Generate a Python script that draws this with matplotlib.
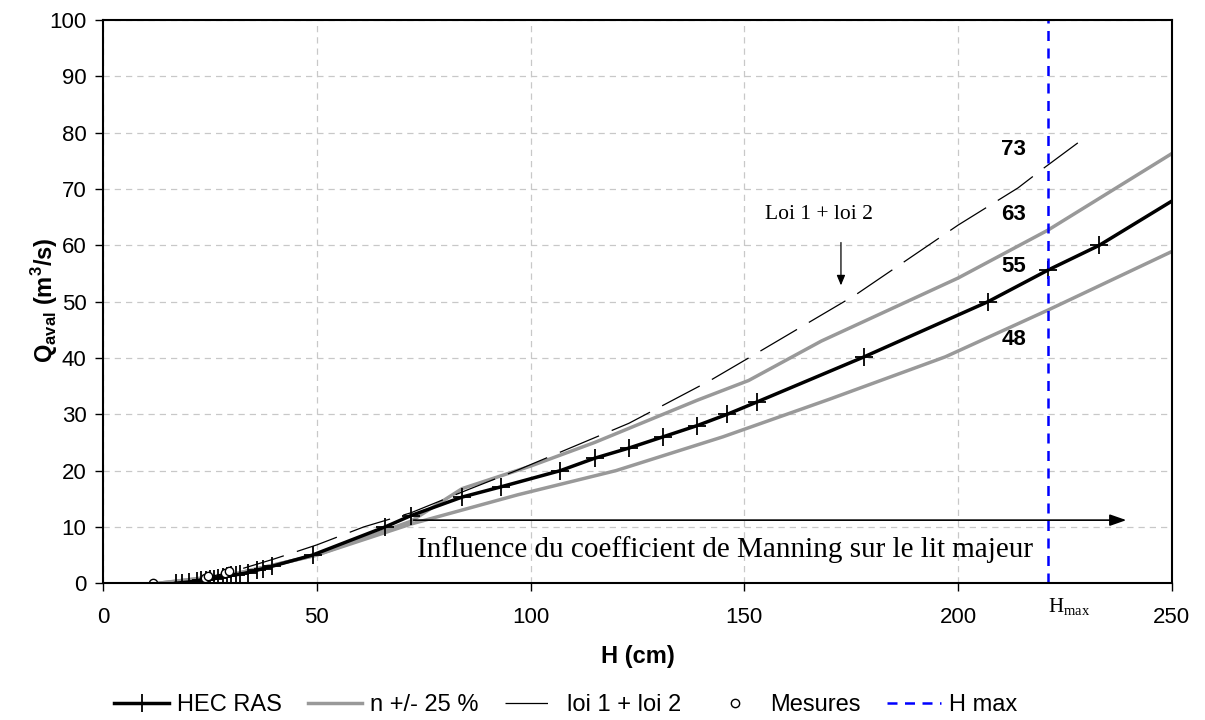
import matplotlib
matplotlib.use("Agg")
from matplotlib import pyplot as plt

# HEC RAS rating curve
hec_h = [17, 18.5, 20, 22, 23, 24, 25, 26, 27, 28, 29, 30, 31, 32, 34, 36, 37.5, 39.5,
         49, 66, 72, 84, 93, 107, 115, 123, 131, 139, 146, 153, 178, 207, 221, 233, 260]
hec_q = [0, 0.1, 0.2, 0.4, 0.5, 0.6, 0.7, 0.8, 1.0, 1.1, 1.2, 1.4, 1.5, 1.6, 1.9, 2.3, 2.6, 3.0,
         5, 10, 12, 15.3, 17.1, 20, 22.2, 24, 26, 28, 30, 32.2, 40.2, 50, 55.6, 60, 72.5]

# n +/- 25 %
up_h = [13, 30, 50, 72, 84, 100, 115, 139, 151, 168, 200, 221, 260]
up_q = [0, 1.5, 5, 11, 16.8, 20.8, 25, 32.5, 36, 43, 54.2, 62.7, 81]
low_h = [13, 30, 50, 72, 97, 120, 145, 170, 197, 221, 260]
low_q = [0, 1.5, 5, 10.5, 15.7, 20, 26, 32.7, 40.2, 48.5, 62.5]

# loi 1 + loi 2
loi_h = [20, 30, 40, 50, 61, 72, 85, 97, 123, 142, 151, 176, 200, 214, 220, 228]
loi_q = [0.3, 2, 4.3, 6.8, 10, 12.5, 16.5, 20.1, 28.4, 36, 40, 51.2, 63.6, 70.2, 73.7, 78.2]

# mesures
mes_h = [11.6, 23.8, 24.5, 28.5, 29.5]
mes_q = [0, 1.0, 1.2, 1.9, 2.1]

h_max = 221
labels_q = [77, 65.4, 56.3, 43.3]
labels_txt = ['73', '63', '55', '48']

plt.rcParams['font.family'] = ['Liberation Sans', 'DejaVu Sans']

fig = plt.figure(figsize=(12.05, 7.2), dpi=100)
ax = fig.add_axes([0.0855, 0.19, 0.887, 0.782])

ax.plot(up_h, up_q, color='#999999', lw=2.5, label='n +/- 25 %')
ax.plot(low_h, low_q, color='#999999', lw=2.5)
ax.plot(loi_h, loi_q, color='black', lw=0.9, dashes=(34, 11), label='loi 1 + loi 2')
ax.plot(hec_h, hec_q, color='black', lw=2.5, marker='+', ms=13, mew=1.3, label='HEC RAS')
ax.plot(mes_h, mes_q, ls='none', marker='o', ms=6, mfc='white', mec='black', mew=1, label='Mesures')
ax.axvline(h_max, color='#0000ff', lw=1.8, ls=(0, (4, 3)), label='H max')

# annotations
ax.annotate('', xy=(240, 11.2), xytext=(72, 11.2),
            arrowprops=dict(arrowstyle='-|>,head_length=1.0,head_width=0.35', color='black', lw=1.2))
ax.text(145.5, 6, 'Influence du coefficient de Manning sur le lit majeur', family='Liberation Serif',
        fontsize=21, ha='center', va='center')
ax.text(167.5, 65.4, 'Loi 1 + loi 2', family='Liberation Serif', fontsize=15.5, ha='center', va='center')
ax.annotate('', xy=(172.6, 52.4), xytext=(172.6, 61),
            arrowprops=dict(arrowstyle='-|>,head_length=0.6,head_width=0.25', color='black', lw=0.9))
for q, t in zip(labels_q, labels_txt):
    ax.text(213, q, t, fontsize=16, fontweight='bold', ha='center', va='center')
ax.text(h_max, -4.2, r'H$_{\mathregular{max}}$', family='Liberation Serif', fontsize=15,
        ha='left', va='center')

ax.set_xlim(0, 250)
ax.set_ylim(0, 100)
ax.set_xticks(range(0, 251, 50))
ax.set_yticks(range(0, 101, 10))
ax.grid(True, color='#c8c8c8', ls=(0, (5, 4)), lw=0.9)
ax.tick_params(direction='out', length=6, labelsize=16, width=1)
ax.tick_params(axis='x', pad=11)
ax.tick_params(axis='y', pad=6)
for s in ax.spines.values():
    s.set_linewidth(1.5)

fig.text(638 / 1205, 1 - 657 / 720, 'H (cm)', fontsize=17, fontweight='bold', ha='center', va='center')
fig.text(45 / 1205, 1 - 300 / 720, r'Q$_{\mathregular{aval}}$ (m$^{\mathregular{3}}$/s)', fontsize=17,
         fontweight='bold', ha='center', va='center', rotation=90)

handles, labs = ax.get_legend_handles_labels()
order = ['HEC RAS', 'n +/- 25 %', 'loi 1 + loi 2', 'Mesures', 'H max']
hd = dict(zip(labs, handles))
fig.legend([hd[k] for k in order], order, loc='center', bbox_to_anchor=(566 / 1205, 0.021), ncol=5,
           frameon=False, fontsize=17, columnspacing=1.1, handlelength=2.3, handletextpad=0.35)

fig.savefig('out.png', dpi=100)
